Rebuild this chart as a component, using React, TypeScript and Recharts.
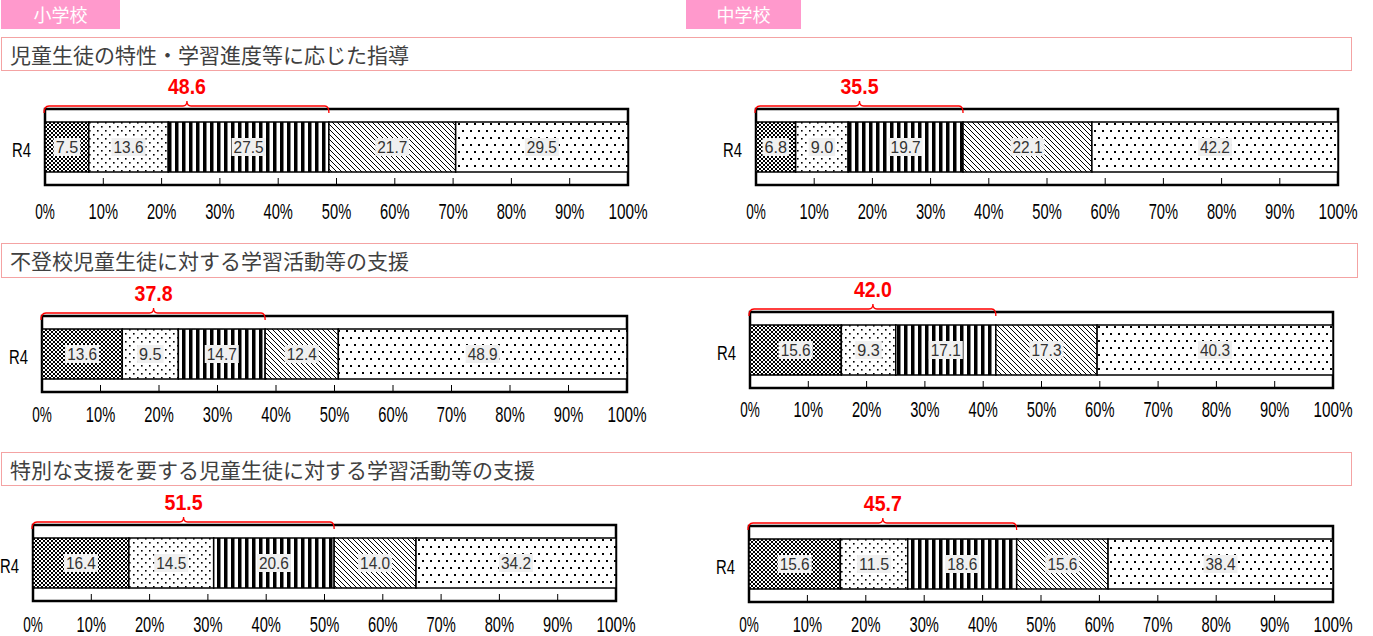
import { BarChart, Bar, XAxis, YAxis, ReferenceArea, LabelList } from 'recharts';

// --- data ---
const CATEGORY = ['R4'];
const TICK_PCT = [0, 10, 20, 30, 40, 50, 60, 70, 80, 90, 100];
const SCHOOLS = ['小学校', '中学校'];
const TITLES = [
    '児童生徒の特性・学習進度等に応じた指導',
    '不登校児童生徒に対する学習活動等の支援',
    '特別な支援を要する児童生徒に対する学習活動等の支援',
];

const ELEM_TEACHING = [7.5, 13.6, 27.5, 21.7, 29.5];
const JUNIOR_TEACHING = [6.8, 9.0, 19.7, 22.1, 42.2];
const ELEM_ABSENCE = [13.6, 9.5, 14.7, 12.4, 48.9];
const JUNIOR_ABSENCE = [15.6, 9.3, 17.1, 17.3, 40.3];
const ELEM_SPECIAL = [16.4, 14.5, 20.6, 14.0, 34.2];
const JUNIOR_SPECIAL = [15.6, 11.5, 18.6, 15.6, 38.4];

const KEYS = ['a', 'b', 'c', 'd', 'e'];
const PATTERNS = ['pCross', 'pDotDense', 'pStripe', 'pDiag', 'pDotSparse'];

const NUM_FONT = "'Liberation Sans', Arial, sans-serif";
const JP = "'Noto Sans CJK JP', sans-serif";

function PatternDefs() {
    return (
        <svg width={0} height={0} style={{ position: 'absolute' }}>
            <defs>
                <pattern id="pCross" width={4} height={4} patternUnits="userSpaceOnUse">
                    <rect width={4} height={4} fill="#fff" />
                    <path d="M0,0 L4,4 M4,0 L0,4" stroke="#000" strokeWidth={1} />
                </pattern>
                <pattern id="pDotDense" width={8} height={8} patternUnits="userSpaceOnUse">
                    <rect width={8} height={8} fill="#fff" />
                    <rect x={1} y={1} width={1.6} height={1.6} fill="#000" />
                    <rect x={5} y={5} width={1.6} height={1.6} fill="#000" />
                </pattern>
                <pattern id="pStripe" width={7} height={7} patternUnits="userSpaceOnUse">
                    <rect width={7} height={7} fill="#fff" />
                    <rect x={0} y={0} width={3.5} height={7} fill="#000" />
                </pattern>
                <pattern id="pDiag" width={5} height={5} patternUnits="userSpaceOnUse">
                    <rect width={5} height={5} fill="#fff" />
                    <path d="M0,0 L5,5 M-1,4 L1,6 M4,-1 L6,1" stroke="#000" strokeWidth={1} />
                </pattern>
                <pattern id="pDotSparse" width={8} height={14} patternUnits="userSpaceOnUse">
                    <rect width={8} height={14} fill="#fff" />
                    <rect x={2} y={2} width={2} height={2} fill="#000" />
                    <rect x={6} y={9} width={2} height={2} fill="#000" />
                </pattern>
            </defs>
        </svg>
    );
}

// squeezed text, to look like the narrow half-width digits of the original
function NarrowText({ x, y, text, size, cell, anchor = 'middle', fill = '#000', bold = false }: any) {
    return (
        <text
            x={x}
            y={y}
            textAnchor={anchor}
            dominantBaseline="central"
            fontSize={size}
            fontWeight={bold ? 'bold' : 'normal'}
            fill={fill}
            fontFamily={NUM_FONT}
            textLength={text.length * cell}
            lengthAdjust="spacingAndGlyphs"
        >
            {text}
        </text>
    );
}

function PctTick(props: any) {
    const { x, y, payload, gap } = props;
    const v = Math.round(payload.value * 100);
    return (
        <g>
            {v > 0 && v < 100 && <line x1={x} x2={x} y1={y - 7} y2={y} stroke="#000" strokeWidth={1} />}
            <NarrowText x={x} y={y + gap} text={`${v}%`} size={22} cell={9.8} />
        </g>
    );
}

function CatTick(props: any) {
    const { x, y, payload } = props;
    return <NarrowText x={x} y={y + 2} text={String(payload.value)} size={21} cell={9.5} anchor="end" />;
}

function SegLabel(props: any) {
    const box = props.viewBox ?? props;
    const { x, y, width, height } = box;
    const text = Number(props.value).toFixed(1);
    const w = text.length * 7.5 + 4;
    const cx = x + width / 2;
    const cy = y + height / 2;
    return (
        <g>
            <rect x={cx - w / 2} y={cy - 9} width={w} height={18} fill="#f0f0f0" />
            <NarrowText x={cx} y={cy} text={text} size={16} cell={7.5} fill="#333" />
        </g>
    );
}

function Brace(props: any) {
    const { x, y, width, value } = props;
    const y0 = y - 3;
    const mid = x + width / 2;
    const r = x + width;
    const d = `M${x - 1},${y0 + 7} Q${x - 1},${y0} ${x + 4},${y0} L${mid - 4},${y0} Q${mid},${y0} ${mid},${y0 - 5} Q${mid},${y0} ${mid + 4},${y0} L${r - 4},${y0} Q${r},${y0} ${r},${y0 + 7}`;
    return (
        <g>
            <path d={d} fill="none" stroke="#ff0000" strokeWidth={1.3} />
            <NarrowText x={mid} y={y0 - 20} text={value.toFixed(1)} size={22} cell={9.5} fill="#ff0000" bold />
        </g>
    );
}

function Panel({ values, left, plotLeft, plotTop, plotWidth, gap }: { values: number[]; left: number; plotLeft: number; plotTop: number; plotWidth: number; gap: number }) {
    const row: any = { name: CATEGORY[0] };
    values.forEach((v, i) => { row[KEYS[i]] = v; });
    const total = values.reduce((s, v) => s + v, 0);
    const head = values[0] + values[1] + values[2];

    const TOP = 44;
    const BOTTOM = 40;
    const RIGHT = 35;
    const PLOT_H = 76;
    const width = plotLeft - left + plotWidth + RIGHT;
    const height = TOP + PLOT_H + BOTTOM;

    return (
        <div style={{ position: 'absolute', left, top: plotTop - TOP }}>
            <BarChart
                width={width}
                height={height}
                data={[row]}
                layout="vertical"
                stackOffset="expand"
                barSize={50}
                margin={{ top: TOP, right: RIGHT, bottom: 0, left: 0 }}
                style={{ overflow: 'visible' }}
            >
                <XAxis
                    type="number"
                    domain={[0, 1]}
                    ticks={TICK_PCT.map((t) => t / 100)}
                    height={BOTTOM}
                    tickSize={0}
                    tickMargin={0}
                    tickLine={false}
                    axisLine={false}
                    tick={(p: any) => <PctTick {...p} gap={gap} />}
                />
                <YAxis
                    type="category"
                    dataKey="name"
                    width={plotLeft - left}
                    tickLine={false}
                    axisLine={false}
                    tickSize={0}
                    tickMargin={14}
                    tick={(p: any) => <CatTick {...p} />}
                />
                {KEYS.map((k, i) => (
                    <Bar key={k} dataKey={k} stackId="s" fill={`url(#${PATTERNS[i]})`} stroke="#000" strokeWidth={1.5} isAnimationActive={false}>
                        <LabelList dataKey={k} content={SegLabel} />
                    </Bar>
                ))}
                <ReferenceArea x1={0} x2={1} fill="none" fillOpacity={0} stroke="#000" strokeWidth={2.5} ifOverflow="visible" />
                <ReferenceArea x1={0} x2={head / total} ifOverflow="visible" shape={(p: any) => <Brace {...p} value={head} />} />
            </BarChart>
        </div>
    );
}

function SchoolTag({ label, left, width }: { label: string; left: number; width: number }) {
    return (
        <div style={{
            position: 'absolute', left, top: 0, width, height: 29, background: '#ff99cc',
            color: '#fff', fontFamily: JP, fontSize: 18, lineHeight: '29px', textAlign: 'center',
        }}>
            {label}
        </div>
    );
}

function TitleBox({ text, top, width, height }: { text: string; top: number; width: number; height: number }) {
    return (
        <div style={{
            position: 'absolute', left: 1, top, width, height, boxSizing: 'border-box',
            border: '1px solid #f4a3a3', fontFamily: JP, fontSize: 21, color: '#404040',
            lineHeight: `${height - 2}px`, paddingLeft: 8, whiteSpace: 'nowrap',
        }}>
            {text}
        </div>
    );
}

export default function App() {
    return (
        <div style={{ position: 'absolute', left: 0, top: 0, width: 1373, height: 636, background: '#fff', overflow: 'hidden' }}>
            <PatternDefs />
            <SchoolTag label={SCHOOLS[0]} left={1} width={119} />
            <SchoolTag label={SCHOOLS[1]} left={686} width={115} />

            <TitleBox text={TITLES[0]} top={37} width={1351} height={34} />
            <TitleBox text={TITLES[1]} top={243} width={1357} height={35} />
            <TitleBox text={TITLES[2]} top={452} width={1351} height={34} />

            <Panel values={ELEM_TEACHING} left={0} plotLeft={45} plotTop={109} plotWidth={583} gap={26} />
            <Panel values={JUNIOR_TEACHING} left={680} plotLeft={756} plotTop={109} plotWidth={582} gap={26} />
            <Panel values={ELEM_ABSENCE} left={0} plotLeft={42} plotTop={316} plotWidth={585} gap={22} />
            <Panel values={JUNIOR_ABSENCE} left={680} plotLeft={750} plotTop={312} plotWidth={583} gap={21} />
            <Panel values={ELEM_SPECIAL} left={0} plotLeft={33} plotTop={525} plotWidth={583} gap={23} />
            <Panel values={JUNIOR_SPECIAL} left={680} plotLeft={749} plotTop={526} plotWidth={584} gap={22} />
        </div>
    );
}
